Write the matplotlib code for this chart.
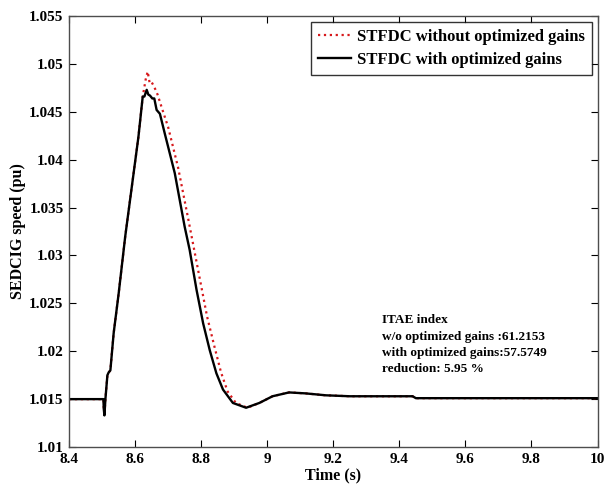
import matplotlib.pyplot as plt
from matplotlib.ticker import FuncFormatter

# SEDCIG speed response (pu) vs time (s)
t_opt = [8.40, 8.504, 8.505, 8.507, 8.510, 8.516, 8.520, 8.525, 8.535, 8.550,
         8.570, 8.590, 8.610, 8.623, 8.628, 8.635, 8.640, 8.645, 8.652, 8.658,
         8.665, 8.675, 8.690, 8.720, 8.750, 8.765, 8.786, 8.806, 8.826, 8.846,
         8.866, 8.896, 8.936, 8.976, 9.016, 9.066, 9.116, 9.177, 9.25, 9.44,
         9.45, 10.0]
w_opt = [1.0150, 1.0150, 1.0140, 1.0133, 1.0150, 1.0175, 1.0178, 1.0180, 1.0219, 1.0260,
         1.0320, 1.0372, 1.0424, 1.0466, 1.0466, 1.0473, 1.0468, 1.0467, 1.0464, 1.0464,
         1.0452, 1.0448, 1.0427, 1.0386, 1.0330, 1.0306, 1.0264, 1.0229, 1.0201, 1.0177,
         1.0160, 1.0146, 1.0141, 1.0146, 1.0153, 1.0157, 1.0156, 1.0154, 1.0153, 1.0153,
         1.0151, 1.0151]

t_base = [8.40, 8.504, 8.505, 8.507, 8.510, 8.516, 8.520, 8.525, 8.535, 8.550,
          8.570, 8.590, 8.610, 8.623, 8.632, 8.638, 8.644, 8.650, 8.658, 8.668,
          8.680, 8.700, 8.730, 8.762, 8.790, 8.818, 8.840, 8.860, 8.880, 8.905,
          8.940, 8.976, 9.016, 9.066, 9.116, 9.177, 9.25, 9.44, 9.45, 10.0]
w_base = [1.0150, 1.0150, 1.0140, 1.0133, 1.0150, 1.0175, 1.0178, 1.0180, 1.0219, 1.0260,
          1.0320, 1.0372, 1.0424, 1.0466, 1.0484, 1.0492, 1.0480, 1.0481, 1.0476, 1.0468,
          1.0455, 1.0434, 1.0392, 1.0336, 1.0286, 1.0236, 1.0205, 1.0178, 1.0158, 1.0146,
          1.0141, 1.0146, 1.0153, 1.0157, 1.0156, 1.0154, 1.0153, 1.0153, 1.0151, 1.0151]

x_ticks = [8.4, 8.6, 8.8, 9.0, 9.2, 9.4, 9.6, 9.8, 10.0]
y_ticks = [1.01, 1.015, 1.02, 1.025, 1.03, 1.035, 1.04, 1.045, 1.05, 1.055]

info_text = ("ITAE index\n"
             "w/o optimized gains :61.2153\n"
             "with optimized gains:57.5749\n"
             "reduction: 5.95 %")

plt.rcParams['font.family'] = 'Liberation Serif'
plt.rcParams['font.weight'] = 'bold'

fig = plt.figure(figsize=(6.06, 4.88), dpi=100)
ax = fig.add_axes([0.114, 0.084, 0.872, 0.883])

ax.plot(t_base, w_base, color='#d7191c', linestyle=':', linewidth=1.6,
        label='STFDC without optimized gains')
ax.plot(t_opt, w_opt, color='black', linewidth=1.7,
        label='STFDC with optimized gains')

ax.set_xlim(8.4, 10)
ax.set_ylim(1.01, 1.055)
ax.set_xticks(x_ticks)
ax.set_yticks(y_ticks)
ax.xaxis.set_major_formatter(FuncFormatter(lambda v, p: f'{v:g}'))
ax.yaxis.set_major_formatter(FuncFormatter(lambda v, p: f'{v:g}'))
ax.tick_params(direction='in', top=True, right=True, labelsize=11,
               length=5, width=0.8, pad=4)
for s in ax.spines.values():
    s.set_color('0.3')
    s.set_linewidth(1.0)

ax.set_xlabel('Time (s)', fontsize=11.5, fontweight='bold', labelpad=1)
ax.set_ylabel('SEDCIG speed (pu)', fontsize=11.5, fontweight='bold', labelpad=2)

leg = ax.legend(loc='upper right', fontsize=12, frameon=True, fancybox=False,
                borderaxespad=0.35, handlelength=2.0, handletextpad=0.35,
                borderpad=0.4, labelspacing=0.45)
leg.get_frame().set_edgecolor('black')
leg.get_frame().set_linewidth(1.0)

ax.text(9.346, 1.0207, info_text, fontsize=9.5, fontweight='bold',
        va='center', ha='left', linespacing=1.45)

fig.savefig('out.png', dpi=100)
